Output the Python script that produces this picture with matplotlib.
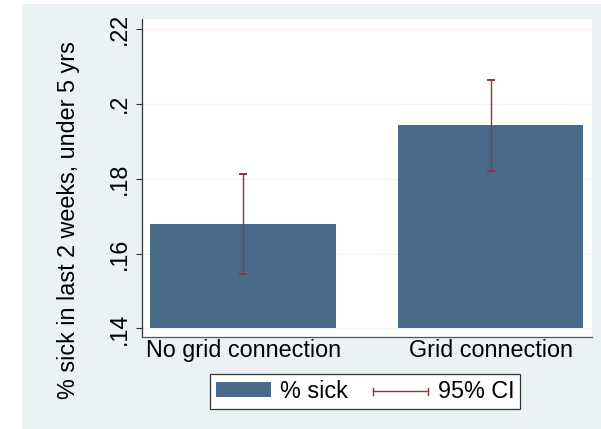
import numpy as np
import matplotlib
matplotlib.use("Agg")
import matplotlib.pyplot as plt
from matplotlib.patches import Patch, Rectangle
from matplotlib.lines import Line2D
from matplotlib.legend_handler import HandlerBase

# data
groups = ["No grid connection", "Grid connection"]
pct_sick = [0.1678, 0.1942]
ci_low = [0.1545, 0.1821]
ci_high = [0.1811, 0.2064]
yticks = [0.14, 0.16, 0.18, 0.20, 0.22]
ytick_labels = [".14", ".16", ".18", ".2", ".22"]
ylabel = "% sick in last 2 weeks, under 5 yrs"

bar_col = "#4A6A8B"
ci_col = "#90353B"
bg_col = "#EAF2F3"

plt.rcParams["font.family"] = ["Liberation Sans", "DejaVu Sans"]
fs = 16.8


class HandlerCI(HandlerBase):
    # horizontal line with small caps, like the Stata legend key
    def create_artists(self, legend, orig, xd, yd, width, height, fontsize, trans):
        y = yd + height / 2
        h = height * 0.22
        main = Line2D([xd, xd + width], [y, y], color=ci_col, lw=1, transform=trans)
        c1 = Line2D([xd, xd], [y - h, y + h], color=ci_col, lw=1, transform=trans)
        c2 = Line2D([xd + width, xd + width], [y - h, y + h], color=ci_col, lw=1, transform=trans)
        return [main, c1, c2]


fig = plt.figure(figsize=(6.01, 4.29), dpi=100, facecolor="white")
# light background panel, white strip on the left and top
fig.patches.append(Rectangle((22 / 601, 0), 1, 1 - 4 / 429, transform=fig.transFigure,
                             facecolor=bg_col, edgecolor="none", zorder=-10))

ax = fig.add_axes([141.7 / 601, 1 - 336.7 / 429, (592 - 141.7) / 601, (336.7 - 19) / 429])
ax.set_facecolor("white")

x = np.arange(len(groups))
base = yticks[0]
heights = [v - base for v in pct_sick]
ax.bar(x, heights, bottom=base, width=0.75, color=bar_col, zorder=2)
err = [np.array(pct_sick) - np.array(ci_low), np.array(ci_high) - np.array(pct_sick)]
ax.errorbar(x, pct_sick, yerr=err, fmt="none", ecolor=ci_col, elinewidth=1,
            capsize=3, capthick=1.4, zorder=3)

ax.set_xlim(-0.41, 1.41)
ax.set_ylim(0.1378, 0.2226)
ax.set_yticks(yticks)
ax.set_yticklabels(ytick_labels, rotation=90, va="center", fontsize=fs)
ax.set_xticks(x)
ax.set_xticklabels(groups, fontsize=fs)
ax.tick_params(axis="x", length=0, pad=2)
ax.tick_params(axis="y", length=4, width=0.8, color="#333333", pad=4)
ax.grid(axis="y", color="#EEF2F2", lw=0.8, zorder=0)
ax.set_axisbelow(True)

for s in ["top", "right"]:
    ax.spines[s].set_visible(False)
ax.spines["left"].set_color("#333333")
ax.spines["bottom"].set_color("#555555")
for s in ["left", "bottom"]:
    ax.spines[s].set_linewidth(0.9)

ax.set_ylabel(ylabel, fontsize=fs)
ax.yaxis.set_label_coords(-0.136, 0.367)

handles = [Patch(facecolor=bar_col, edgecolor="none"), Line2D([], [])]
leg = fig.legend(handles, ["% sick", "95% CI"], handler_map={handles[1]: HandlerCI()},
                 ncol=2, loc="center", bbox_to_anchor=(0.6075, 0.0874), fontsize=fs,
                 frameon=True, fancybox=False, edgecolor="#333333", framealpha=1,
                 handlelength=2.36, handleheight=0.6, handletextpad=0.4,
                 columnspacing=1.07, borderpad=0.25, borderaxespad=0)
leg.get_frame().set_linewidth(0.9)

fig.savefig("out.png", dpi=100, facecolor=fig.get_facecolor())
